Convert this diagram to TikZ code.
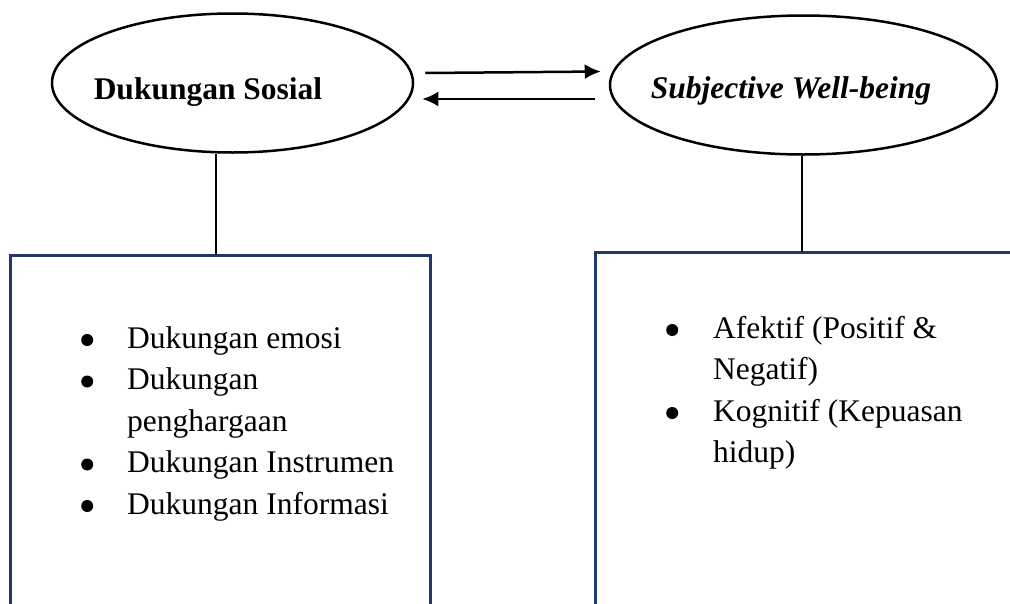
\documentclass[tikz,border=0pt]{standalone}
\usepackage{fontspec}
\setmainfont{Liberation Serif}
\usetikzlibrary{shapes.geometric,arrows.meta}

\definecolor{boxblue}{RGB}{31,56,100}
\newcommand{\itemdot}{\tikz[baseline=-8pt]\path[fill=black, draw=none] (0pt,0pt) circle[radius=6pt];}

\begin{document}
\begin{tikzpicture}[x=1pt,y=-1pt,
    var/.style={draw, ellipse, line width=2.5pt, inner sep=0pt},
    varlabel/.style={font=\fontsize{31.5}{36}\selectfont\bfseries, anchor=base},
    listbox/.style={draw=boxblue, line width=3pt},
    items/.style={font=\fontsize{31.5}{41.5}\selectfont, anchor=base west, inner sep=0pt},
    link/.style={-{Latex[length=16pt,width=15pt]}, line width=2.5pt}]
    \useasboundingbox (0,0) rectangle (1010,603);

    % The two variables
    \node[var, minimum width=361pt, minimum height=139pt] (ds) at (232.5,83) {};
    \node[var, minimum width=387pt, minimum height=139pt] (swb) at (803.5,85) {};
    \node[varlabel] (dslabel) at (208,99) {Dukungan Sosial};
    \node[varlabel] (swblabel) at (791,98) {\itshape Subjective Well-being};

    % Reciprocal arrows
    \draw[link] ([shift={(11,-10)}]ds.east) -- ([shift={(-8,-13.5)}]swb.west);
    \draw[link] ([shift={(-14,14)}]swb.west) -- ([shift={(8,16)}]ds.east);

    % Boxes with the indicators (open at the bottom of the page)
    \draw[listbox] (10,625) -- (10,255) -- (430,255) -- (430,625);
    \draw[listbox] (595,625) -- (595,252) -- (1014,252);
    \coordinate (dsbox) at (216,255);
    \coordinate (swbbox) at (802,252);

    \draw[line width=1.2pt] (ds.south -| dsbox) -- (dsbox);
    \draw[line width=1.2pt] (swb.south -| swbbox) -- (swbbox);

    \node[items] (dsitems) at (81,348) {%
        \begin{tabular}[t]{@{}p{46pt}@{}l@{}}
            \itemdot & Dukungan emosi\\
            \itemdot & Dukungan\\
                     & penghargaan\\
            \itemdot & Dukungan Instrumen\\
            \itemdot & Dukungan Informasi
        \end{tabular}};
    \node[items] (swbitems) at (666,338) {%
        \begin{tabular}[t]{@{}p{47pt}@{}l@{}}
            \itemdot & Afektif (Positif \&\\
                     & Negatif)\\
            \itemdot & Kognitif (Kepuasan\\
                     & hidup)
        \end{tabular}};
\end{tikzpicture}
\end{document}
